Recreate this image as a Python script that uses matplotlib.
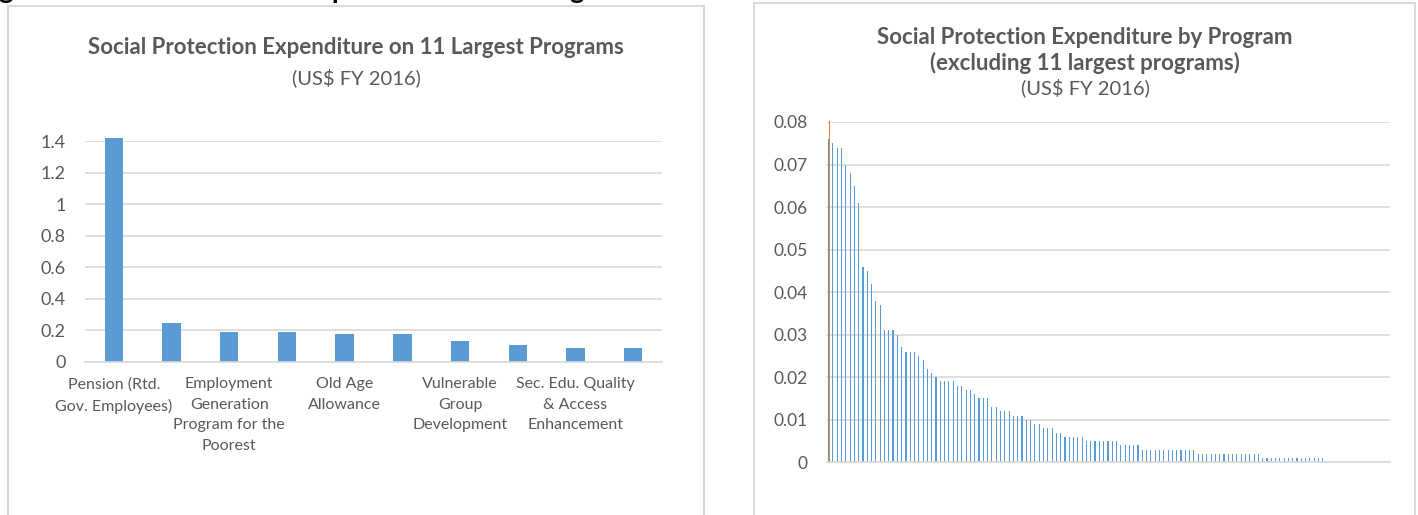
import matplotlib
matplotlib.use("Agg")
import matplotlib.pyplot as plt
from matplotlib.patches import Rectangle
import numpy as np

# Left chart: 11 largest programs (only 10 bars visible, every second labelled)
big_labels = ["Pension (Rtd.\nGov. Employees)", "",
              "Employment\nGeneration\nProgram for the\nPoorest", "",
              "Old Age\nAllowance", "",
              "Vulnerable\nGroup\nDevelopment", "",
              "Sec. Edu. Quality\n& Access\nEnhancement", ""]
big_values = [1.42, 0.25, 0.19, 0.19, 0.18, 0.18, 0.13, 0.11, 0.09, 0.09]
big_yticks = [0, 0.2, 0.4, 0.6, 0.8, 1, 1.2, 1.4]

# Right chart: all the other programs, sorted
small_values = [
    0.076, 0.075, 0.074, 0.074, 0.070, 0.068, 0.065, 0.061, 0.046, 0.045,
    0.042, 0.038, 0.037, 0.031, 0.031, 0.031, 0.030, 0.027, 0.026, 0.026,
    0.026, 0.025, 0.024, 0.022, 0.021, 0.020, 0.019, 0.019, 0.019, 0.019,
    0.018, 0.018, 0.017, 0.017, 0.016, 0.015, 0.015, 0.015, 0.013, 0.013,
    0.012, 0.012, 0.012, 0.011, 0.011, 0.011, 0.010, 0.010, 0.009, 0.009,
    0.008, 0.008, 0.008, 0.007, 0.007, 0.006, 0.006, 0.006, 0.006, 0.006,
    0.005, 0.005, 0.005, 0.005, 0.005, 0.005, 0.005, 0.005, 0.004, 0.004,
    0.004, 0.004, 0.004, 0.003, 0.003, 0.003, 0.003, 0.003, 0.003, 0.003,
    0.003, 0.003, 0.003, 0.003, 0.003, 0.003, 0.002, 0.002, 0.002, 0.002,
    0.002, 0.002, 0.002, 0.002, 0.002, 0.002, 0.002, 0.002, 0.002, 0.002,
    0.002, 0.001, 0.001, 0.001, 0.001, 0.001, 0.001, 0.001, 0.001, 0.001,
    0.001, 0.001, 0.001, 0.001, 0.001, 0.001, 0.0, 0.0, 0.0, 0.0,
    0.0, 0.0, 0.0, 0.0, 0.0, 0.0, 0.0, 0.0, 0.0, 0.0, 0.0,
]
second_series = [0.0803]  # orange series, only on the first category
small_yticks = [0, 0.01, 0.02, 0.03, 0.04, 0.05, 0.06, 0.07, 0.08]

caption = "Figure 3: Social Protection Expenditure on 11 Largest and Other Schemes"

BLUE = "#5B9BD5"
ORANGE = "#ED7D31"
GRID = "#D9D9D9"
TXT = "#595959"
FONT = "Lato"

plt.rcParams["font.family"] = [FONT, "DejaVu Sans"]

W, H = 1418, 515
fig = plt.figure(figsize=(W / 100, H / 100), dpi=100)


def fx(px):
    return px / W


def fy(py):
    return 1 - py / H


# chart frames
for x0, y0, x1 in [(8, 6, 704), (754, 2.5, 1415)]:
    fig.patches.append(Rectangle((fx(x0), -0.05), fx(x1) - fx(x0), fy(y0) + 0.05,
                                 transform=fig.transFigure, fill=False,
                                 edgecolor=GRID, linewidth=1.5))

# caption above the charts, cut off by the page edge: only the descenders of
# the "g" in Figure (x~0) and the "p" in Expenditure (x~335) show
renderer = fig.canvas.get_renderer()


def prefix_width(s, size):
    t = fig.text(0, 0, s, fontsize=size, fontweight="bold")
    w = t.get_window_extent(renderer).width
    t.remove()
    return w


w_g = prefix_width("Fi", 15)
w_p = prefix_width(caption[:caption.index("Ex") + 2], 15)
cap_size = 15 * 335 / (w_p - w_g)
fig.text(fx(-w_g * cap_size / 15 - 1), fy(-1), caption,
         fontsize=cap_size, fontweight="bold", color="black", va="baseline", ha="left")


def style(ax, pad, size):
    for s in ["left", "right", "top"]:
        ax.spines[s].set_visible(False)
    ax.spines["bottom"].set_color(GRID)
    ax.spines["bottom"].set_linewidth(1.2)
    ax.yaxis.grid(True, color=GRID, linewidth=1.2)
    ax.set_axisbelow(True)
    ax.tick_params(axis="both", length=0, colors=TXT)
    ax.tick_params(axis="y", pad=pad, labelsize=size)


# ---- left chart
ax1 = fig.add_axes([fx(85), fy(362), fx(662) - fx(85), fy(141) - fy(362)])
x1 = np.arange(len(big_values))
ax1.bar(x1, big_values, width=0.32, color=BLUE, clip_on=False)
ax1.set_xlim(-0.5, len(big_values) - 0.5)
ax1.set_ylim(0, 1.4)
ax1.set_yticks(big_yticks)
ax1.set_yticklabels([f"{v:g}" for v in big_yticks])
style(ax1, 14, 13)
ax1.set_xticks(x1)
ax1.set_xticklabels(big_labels, fontsize=11.5, linespacing=1.6)
ax1.tick_params(axis="x", pad=11)

fig.text(fx(356), fy(48), "Social Protection Expenditure on 11 Largest Programs",
         ha="center", va="center", fontsize=16, fontweight="bold", color=TXT)
fig.text(fx(356), fy(78), "(US$ FY 2016)", ha="center", va="center",
         fontsize=14.5, color=TXT)

# ---- right chart
ax2 = fig.add_axes([fx(827), fy(462.3), fx(1390) - fx(827), fy(122) - fy(462.3)])
x2 = np.arange(len(small_values))
ax2.bar(x2 - 0.13, small_values, width=0.26, color=BLUE, linewidth=0)
ax2.bar(np.arange(len(second_series)) + 0.13, second_series, width=0.26,
        color=ORANGE, linewidth=0, clip_on=False)
ax2.set_xlim(-0.5, len(small_values) - 0.5)
ax2.set_ylim(0, 0.08)
ax2.set_yticks(small_yticks)
ax2.set_yticklabels([f"{v:g}" for v in small_yticks])
style(ax2, 14, 12.5)
ax2.set_xticks([])

fig.text(fx(1085), fy(38), "Social Protection Expenditure by Program",
         ha="center", va="center", fontsize=16, fontweight="bold", color=TXT)
fig.text(fx(1085), fy(63), "(excluding 11 largest programs)",
         ha="center", va="center", fontsize=16, fontweight="bold", color=TXT)
fig.text(fx(1085), fy(88), "(US$ FY 2016)", ha="center", va="center",
         fontsize=14.5, color=TXT)

fig.savefig("out.png", dpi=100)
